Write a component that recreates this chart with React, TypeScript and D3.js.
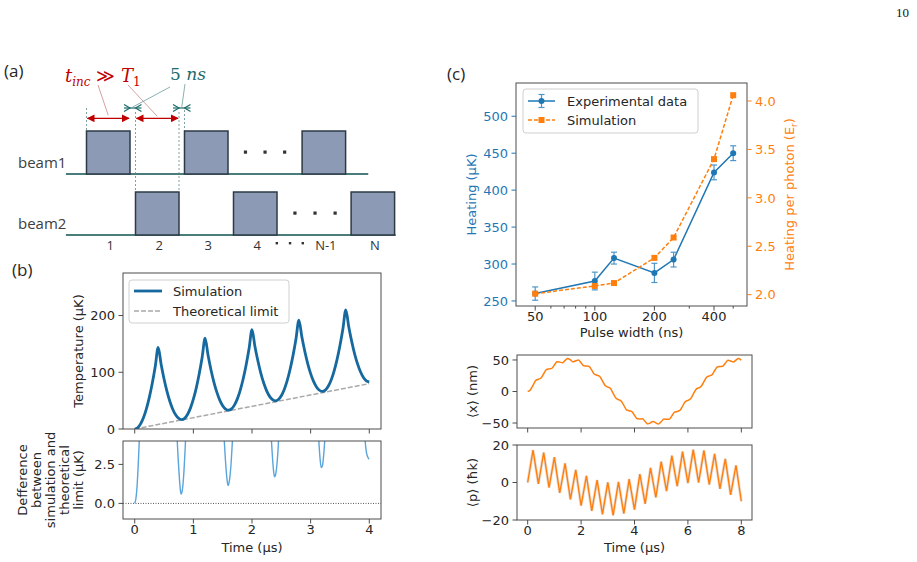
import React from 'react';
import * as d3 from 'd3';

const SANS = "'DejaVu Sans', Verdana, sans-serif";
const DIAGRAM_FONT = "'Open Sans', 'Liberation Sans', sans-serif";
const MATH_FONT = "'DejaVu Serif', 'Liberation Serif', serif";

const INK = '#262626';
const SPINE = '#4d4d4d';
const BLUE = '#1f77b4';
const ORANGE = '#ff7f0e';
const SIM_BLUE = '#16699f';
const DIFF_BLUE = '#5aa5dc';
const RED = '#c00000';
const TEAL = '#1d6b6b';
const PULSE_FILL = '#8c9ab6';
const PULSE_EDGE = '#2c3a44';
const BEAM_LINE = '#4a7c7c';

// ---- (a) pulse sequence ----
const slotLabels = ['1', '2', '3', '4', 'N-1', 'N'];
const slotPos = [0, 1, 2, 3, 4.4, 5.4];
const slotBeam = [1, 2, 1, 2, 1, 2];
const beamNames = ['beam1', 'beam2'];
const beamLineEnd = [5.75, 6.31];
const beamDots = [[2.8, 3.2, 3.6], [3.81, 4.22, 4.63]];
const labelDots = [3.44, 3.71, 3.97];

// ---- (b) temperature during the pulse train ----
const simTemperature = [
  0, 2.2, 9, 20.2, 36, 56.2, 81, 110.2, 144,
  114.1, 88.2, 66.4, 48.5, 34.5, 24.5, 18.6, 16.6,
  18.8, 25.6, 36.8, 52.5, 72.6, 97.3, 126.4, 160,
  130.3, 104.5, 82.7, 64.9, 51, 41.1, 35.2, 33.2,
  35.4, 42.1, 53.1, 68.6, 88.6, 113, 141.8, 175,
  145.6, 120.2, 98.6, 81, 67.3, 57.5, 51.7, 49.7,
  51.9, 58.6, 69.7, 85.3, 105.3, 129.8, 158.6, 192,
  162.5, 137, 115.4, 97.7, 84, 74.2, 68.3, 66.3,
  68.5, 75.3, 86.5, 102.2, 122.4, 147.2, 176.3, 210,
  180.2, 154.4, 132.5, 114.7, 100.8, 90.8, 84.9, 82.9,
];
const simTime = d3.range(simTemperature.length).map((i) => i * 0.05);
const theoryTime = [0, 4];
const theoryTemperature = [0, 80];

const diffTime = [
  0, 0.02, 0.04, 0.06, 0.08, 0.1, null,
  0.7, 0.72, 0.74, 0.76, 0.78, 0.79, 0.8, 0.82, 0.84, 0.86, 0.88, null,
  1.5, 1.52, 1.54, 1.56, 1.58, 1.59, 1.6, 1.62, 1.64, 1.66, 1.68, null,
  2.31, 2.33, 2.35, 2.37, 2.385, 2.4, 2.42, 2.44, 2.46, 2.48, null,
  3.12, 3.14, 3.16, 3.18, 3.2, 3.22, 3.24, 3.26, null,
  3.91, 3.93, 3.95, 3.97, 3.99, 4.0,
];
const diffValue = [
  0, 0.3, 1.1, 2.5, 4.2, 6.2, null,
  6.0, 4.4, 2.9, 1.7, 0.8, 0.6, 0.65, 1.1, 2.1, 3.5, 5.2, null,
  6.0, 4.5, 3.2, 2.1, 1.35, 1.15, 1.2, 1.6, 2.4, 3.6, 5.0, null,
  5.6, 4.1, 2.9, 2.0, 1.7, 1.8, 2.3, 3.2, 4.5, 6.0, null,
  5.4, 4.0, 2.9, 2.3, 2.4, 3.0, 4.0, 5.4, null,
  5.5, 4.0, 3.3, 3.0, 2.87, 2.85,
];
const temperatureTicks = [0, 100, 200];
const diffTicks = [0, 2.5];
const timeTicksB = [0, 1, 2, 3, 4];

// ---- (c) heating vs pulse width ----
const pulseWidth = [50, 100, 125, 200, 250, 400, 500];
const heatingExp = [260, 277, 308, 288, 306, 424, 450];
const heatingErr = [9, 12, 8, 13, 10, 10, 10];
const heatingSim = [2.01, 2.09, 2.12, 2.38, 2.59, 3.4, 4.06];
const pulseTicks = [50, 100, 200, 400];
const pulseMinorTicks = [60, 70, 80, 90, 300, 500];
const heatingTicks = [250, 300, 350, 400, 450, 500];
const photonTicks = [2.0, 2.5, 3.0, 3.5, 4.0];

// ---- (c) mean position and momentum ----
const xMean = [
  0, 2.5, 9.9, 17.3, 19.5, 21.5, 28.2, 34.7, 35.9, 36.7,
  42.1, 47.1, 46.6, 45.7, 49.3, 52.4, 50.0, 47.1, 48.7, 49.8,
  45.5, 40.7, 40.4, 39.8, 33.8, 27.4, 25.8, 23.9, 16.8, 9.5,
  7.1, 4.6, -2.9, -10.4, -12.8, -15.0, -22.1, -29.0, -30.6, -31.9,
  -37.8, -43.4, -43.6, -43.3, -47.6, -51.4, -49.7, -47.5, -49.8, -51.6,
  -48.0, -43.8, -44.2, -44.1, -38.6, -32.8, -31.6, -30.0, -23.2, -16.2,
  -14.0, -11.6, -4.2, 3.3, 5.8, 8.3, 15.6, 22.7, 24.7, 26.4,
  32.9, 39.0, 39.7, 40.0, 44.9, 49.4, 48.4, 46.9, 49.9, 52.5,
  49.5,
];
const xTime = d3.range(xMean.length).map((i) => i * 0.1);
const pMean = [
  0, 17.3, -0.7, 16.0, -2.7, 13.5, -5.6, 10.2, -9.0, 6.8,
  -12.4, 3.6, -15.2, 1.3, -17.0, 0.1, -17.5, 0.3, -16.6, 1.8,
  -14.5, 4.5, -11.4, 7.8, -8.0, 11.2, -4.6, 14.3, -2.0, 16.5,
  -0.3, 17.5, -0.05, 17.1, -1.1, 15.3, -3.4, 12.6, -6.6, 9.2,
  -10.0,
];
const pTime = d3.range(pMean.length).map((i) => i * 0.2);
const xTicks = [-50, 0, 50];
const pTicks = [-20, 0, 20];
const timeTicksC = [0, 2, 4, 6, 8];

const TICK = 4.5;
const PAD = 3.5;
const FS = 13;
const XLABEL_DROP = 15;

const fmtSigned = (d: number) => (d < 0 ? '\u2212' + Math.abs(d) : String(d));

type Box = { x0: number; x1: number; y0: number; y1: number };

function Frame({ b }: { b: Box }) {
  return (
    <rect x={b.x0} y={b.y0} width={b.x1 - b.x0} height={b.y1 - b.y0}
      fill="none" stroke={SPINE} strokeWidth={1} />
  );
}

function LeftTicks({ scale, ticks, x, fmt, color = INK }: any) {
  return (
    <g>
      {ticks.map((t: number) => (
        <g key={t}>
          <line x1={x - TICK} x2={x} y1={scale(t)} y2={scale(t)} stroke={color === INK ? SPINE : color} strokeWidth={1} />
          <text x={x - TICK - PAD} y={scale(t)} dy="0.36em" textAnchor="end"
            fontFamily={SANS} fontSize={FS} fill={color}>{fmt(t)}</text>
        </g>
      ))}
    </g>
  );
}

function RightTicks({ scale, ticks, x, fmt, color = INK }: any) {
  return (
    <g>
      {ticks.map((t: number) => (
        <g key={t}>
          <line x1={x} x2={x + TICK} y1={scale(t)} y2={scale(t)} stroke={color} strokeWidth={1} />
          <text x={x + TICK + PAD} y={scale(t)} dy="0.36em" textAnchor="start"
            fontFamily={SANS} fontSize={FS} fill={color}>{fmt(t)}</text>
        </g>
      ))}
    </g>
  );
}

function BottomTicks({ scale, ticks, y, fmt, labels = true, len = TICK }: any) {
  return (
    <g>
      {ticks.map((t: number) => (
        <g key={t}>
          <line x1={scale(t)} x2={scale(t)} y1={y} y2={y + len} stroke={SPINE} strokeWidth={1} />
          {labels && (
            <text x={scale(t)} y={y + XLABEL_DROP} textAnchor="middle"
              fontFamily={SANS} fontSize={FS} fill={INK}>{fmt(t)}</text>
          )}
        </g>
      ))}
    </g>
  );
}

function VLabel({ x, y, children, color = INK, size = FS }: any) {
  return (
    <text transform={`translate(${x},${y}) rotate(-90)`} textAnchor="middle" dy="0.35em"
      fontFamily={SANS} fontSize={size} fill={color}>{children}</text>
  );
}

function PanelA() {
  const slotX = d3.scaleLinear().domain([0, 1]).range([86.5, 135.5]);
  const boxW = 43.5;
  const boxH = 43;
  const beamY = d3.scaleOrdinal<number, number>().domain([1, 2]).range([174, 235]);
  const lineStart = slotX(-0.42);
  const arrowY = 118.3;
  const markY = 108;

  const left = (s: number) => slotX(s);
  const right = (s: number) => slotX(s) + boxW;
  const center = (s: number) => slotX(s) + boxW / 2;

  const gap1 = [right(slotPos[0]), left(slotPos[1])];
  const gap2 = [right(slotPos[1]), left(slotPos[2])];

  const chevrons = (g: number[]) => {
    const [gl, gr] = g;
    const y = markY;
    return (
      <g stroke={TEAL} strokeWidth={1.2} fill="none">
        <path d={`M${gl - 6},${y - 3.5} L${gl},${y} L${gl - 6},${y + 3.5}`} />
        <path d={`M${gr + 6},${y - 3.5} L${gr},${y} L${gr + 6},${y + 3.5}`} />
        <line x1={gl - 6} x2={gr + 6} y1={y} y2={y} />
      </g>
    );
  };

  return (
    <g>
      <defs>
        <marker id="redHead" viewBox="0 0 10 10" refX="9" refY="5" markerWidth="6" markerHeight="6" orient="auto-start-reverse">
          <path d="M0,0 L10,5 L0,10 z" fill={RED} />
        </marker>
      </defs>
      <text x={4} y={77} fontFamily={DIAGRAM_FONT} fontSize={17} fill={INK}>(a)</text>

      {/* beam baselines */}
      {beamNames.map((name, i) => (
        <g key={name}>
          <line x1={lineStart} x2={slotX(beamLineEnd[i])} y1={beamY(i + 1)} y2={beamY(i + 1)}
            stroke={BEAM_LINE} strokeWidth={2} />
          <text x={18} y={beamY(i + 1) - 6} fontFamily={DIAGRAM_FONT} fontSize={15} fill="#404040">{name}</text>
        </g>
      ))}

      {/* guide lines */}
      <g stroke="#5d8c8c" strokeWidth={0.8} strokeDasharray="2,2">
        <line x1={left(slotPos[0])} x2={left(slotPos[0])} y1={markY} y2={beamY(1) - boxH} />
        <line x1={left(slotPos[1])} x2={left(slotPos[1])} y1={markY + 4} y2={beamY(2) - boxH} />
        <line x1={right(slotPos[1])} x2={right(slotPos[1])} y1={markY + 4} y2={beamY(2) - boxH} />
        <line x1={left(slotPos[2])} x2={left(slotPos[2])} y1={markY + 2} y2={beamY(1) - boxH} />
      </g>

      {/* pulses */}
      {slotPos.map((s, i) => (
        <rect key={i} x={slotX(s)} y={beamY(slotBeam[i]) - boxH} width={boxW} height={boxH}
          fill={PULSE_FILL} stroke={PULSE_EDGE} strokeWidth={1.5} />
      ))}

      {/* ellipsis dots */}
      {beamDots.map((row, bi) => row.map((s, j) => (
        <rect key={`${bi}-${j}`} x={center(s) - 1.6} y={beamY(bi + 1) - 23.5} width={3.2} height={3.2} fill="#333" />
      )))}
      {labelDots.map((s, j) => (
        <rect key={`l${j}`} x={center(s) - 1.2} y={242} width={2.4} height={2.4} fill="#333" />
      ))}

      {/* slot numbers */}
      {slotLabels.map((lab, i) => (
        <text key={lab} x={center(slotPos[i]) + 2} y={250} textAnchor="middle"
          fontFamily={DIAGRAM_FONT} fontSize={13} fill="#333">{lab}</text>
      ))}

      {/* timing arrows */}
      <g stroke={RED} strokeWidth={1.3}>
        <line x1={left(slotPos[0]) + 1} x2={right(slotPos[0]) - 1} y1={arrowY} y2={arrowY}
          markerStart="url(#redHead)" markerEnd="url(#redHead)" />
        <line x1={left(slotPos[1]) + 1} x2={right(slotPos[1]) - 1} y1={arrowY} y2={arrowY}
          markerStart="url(#redHead)" markerEnd="url(#redHead)" />
      </g>
      <g stroke="#c98a8a" strokeWidth={0.8}>
        <line x1={98} y1={85} x2={center(slotPos[0])} y2={arrowY - 3} />
        <line x1={128} y1={85} x2={center(slotPos[1])} y2={arrowY - 2} />
      </g>
      {chevrons(gap1)}
      {chevrons(gap2)}
      <g stroke="#6f9c9c" strokeWidth={0.8}>
        <line x1={170} y1={87} x2={(gap1[0] + gap1[1]) / 2} y2={markY - 1} />
        <line x1={185} y1={84} x2={(gap2[0] + gap2[1]) / 2} y2={markY - 1} />
      </g>

      <text x={65} y={82} fill={RED} fontFamily={MATH_FONT} fontStyle="italic" fontSize={18}>
        t<tspan fontSize={12} dy={4}>inc</tspan>
        <tspan dy={-4} fontStyle="normal"> {'\u226B'} </tspan>T
        <tspan fontSize={12} dy={4} fontStyle="normal">1</tspan>
      </text>
      <text x={170} y={80} fill={TEAL} fontFamily={MATH_FONT} fontSize={17}>
        5 <tspan fontStyle="italic">ns</tspan>
      </text>
    </g>
  );
}

function PanelB() {
  const top: Box = { x0: 123, x1: 381, y0: 273, y1: 429 };
  const bot: Box = { x0: 123, x1: 381, y0: 441, y1: 519 };
  const x = d3.scaleLinear().domain([-0.2, 4.2]).range([top.x0, top.x1]);
  const yT = d3.scaleLinear().domain([0, 275]).range([top.y1, top.y0]);
  const yD = d3.scaleLinear().domain([-1, 4]).range([bot.y1, bot.y0]);

  const simPath = d3.line<number>()
    .x((_, i) => x(simTime[i]))
    .y((d) => yT(d))
    .curve(d3.curveMonotoneX)(simTemperature) || '';
  const theoryPath = d3.line<number>()
    .x((_, i) => x(theoryTime[i]))
    .y((d) => yT(d))(theoryTemperature) || '';
  const diffPts = diffTime.map((t, i) => [t, diffValue[i]] as [number | null, number | null]);
  const diffPath = d3.line<[number | null, number | null]>()
    .defined((d) => d[0] != null && d[1] != null)
    .x((d) => x(d[0] as number))
    .y((d) => yD(d[1] as number))
    .curve(d3.curveMonotoneX)(diffPts) || '';

  const labelLines = ['Defference', 'between', 'simulation and', 'theoretical', 'limit (\u00B5K)'];

  return (
    <g>
      <defs>
        <clipPath id="clipTop"><rect x={top.x0} y={top.y0} width={top.x1 - top.x0} height={top.y1 - top.y0} /></clipPath>
        <clipPath id="clipBot"><rect x={bot.x0} y={bot.y0} width={bot.x1 - bot.x0} height={bot.y1 - bot.y0} /></clipPath>
      </defs>
      <text x={12} y={276} fontFamily={DIAGRAM_FONT} fontSize={17} fill={INK}>(b)</text>

      <g clipPath="url(#clipTop)">
        <path d={theoryPath} fill="none" stroke="#a9a9a9" strokeWidth={1.5} strokeDasharray="5,2" />
        <path d={simPath} fill="none" stroke={SIM_BLUE} strokeWidth={2.8} strokeLinejoin="round" />
      </g>
      <Frame b={top} />
      <LeftTicks scale={yT} ticks={temperatureTicks} x={top.x0} fmt={(d: number) => String(d)} />
      <BottomTicks scale={x} ticks={timeTicksB} y={top.y1} fmt={String} labels={false} />
      <VLabel x={78} y={(top.y0 + top.y1) / 2}>Temperature ({'\u00B5'}K)</VLabel>

      <g>
        <rect x={129} y={280} width={160} height={43} rx={3} fill="#fff" fillOpacity={0.85} stroke="#d0d0d0" />
        <line x1={134} x2={162} y1={291} y2={291} stroke={SIM_BLUE} strokeWidth={2.8} />
        <text x={173} y={291} dy="0.36em" fontFamily={SANS} fontSize={FS} fill={INK}>Simulation</text>
        <line x1={134} x2={162} y1={311} y2={311} stroke="#a9a9a9" strokeWidth={1.5} strokeDasharray="5,2" />
        <text x={173} y={311} dy="0.36em" fontFamily={SANS} fontSize={FS} fill={INK}>Theoretical limit</text>
      </g>

      <line x1={bot.x0} x2={bot.x1} y1={yD(0)} y2={yD(0)} stroke="#555" strokeWidth={1} strokeDasharray="1,1.5" />
      <g clipPath="url(#clipBot)">
        <path d={diffPath} fill="none" stroke={DIFF_BLUE} strokeWidth={1.4} />
      </g>
      <Frame b={bot} />
      <LeftTicks scale={yD} ticks={diffTicks} x={bot.x0} fmt={d3.format('.1f')} />
      <BottomTicks scale={x} ticks={timeTicksB} y={bot.y1} fmt={String} />
      <text x={(bot.x0 + bot.x1) / 2} y={552} textAnchor="middle" fontFamily={SANS} fontSize={FS} fill={INK}>Time ({'\u00B5'}s)</text>
      {labelLines.map((l, i) => (
        <VLabel key={l} x={22 + i * 14} y={(bot.y0 + bot.y1) / 2}>{l}</VLabel>
      ))}
    </g>
  );
}

function PanelC() {
  const b: Box = { x0: 516, x1: 747, y0: 83, y1: 306 };
  const x = d3.scaleLog().domain([40, 587]).range([b.x0, b.x1]);
  const yL = d3.scaleLinear().domain([243.2, 545]).range([b.y1, b.y0]);
  const yR = d3.scaleLinear().domain([1.883, 4.186]).range([b.y1, b.y0]);

  const expPath = d3.line<number>().x((_, i) => x(pulseWidth[i])).y((d) => yL(d))(heatingExp) || '';
  const simPath = d3.line<number>().x((_, i) => x(pulseWidth[i])).y((d) => yR(d))(heatingSim) || '';

  return (
    <g>
      <text x={447} y={80} fontFamily={DIAGRAM_FONT} fontSize={17} fill={INK}>(c)</text>
      <path d={expPath} fill="none" stroke={BLUE} strokeWidth={1.5} />
      {heatingExp.map((v, i) => {
        const cx = x(pulseWidth[i]);
        const e = heatingErr[i];
        return (
          <g key={i}>
            <g stroke="#4f95c8" strokeWidth={1.2}>
              <line x1={cx} x2={cx} y1={yL(v - e)} y2={yL(v + e)} />
              <line x1={cx - 3} x2={cx + 3} y1={yL(v - e)} y2={yL(v - e)} />
              <line x1={cx - 3} x2={cx + 3} y1={yL(v + e)} y2={yL(v + e)} />
            </g>
            <circle cx={cx} cy={yL(v)} r={3} fill={BLUE} />
          </g>
        );
      })}
      <path d={simPath} fill="none" stroke={ORANGE} strokeWidth={1.5} strokeDasharray="4,2" />
      {heatingSim.map((v, i) => (
        <rect key={i} x={x(pulseWidth[i]) - 3} y={yR(v) - 3} width={6} height={6} fill={ORANGE} />
      ))}
      <Frame b={b} />
      <LeftTicks scale={yL} ticks={heatingTicks} x={b.x0} fmt={String} color={BLUE} />
      <RightTicks scale={yR} ticks={photonTicks} x={b.x1} fmt={d3.format('.1f')} color={ORANGE} />
      <BottomTicks scale={x} ticks={pulseTicks} y={b.y1} fmt={String} />
      <BottomTicks scale={x} ticks={pulseMinorTicks} y={b.y1} fmt={String} labels={false} len={2.6} />
      <text x={(b.x0 + b.x1) / 2} y={337} textAnchor="middle" fontFamily={SANS} fontSize={FS} fill={INK}>Pulse width (ns)</text>
      <VLabel x={471} y={(b.y0 + b.y1) / 2} color={BLUE}>Heating ({'\u00B5'}K)</VLabel>
      <text transform={`translate(789,${(b.y0 + b.y1) / 2}) rotate(-90)`} textAnchor="middle" dy="0.35em"
        fontFamily={SANS} fontSize={FS} fill={ORANGE}>
        Heating per photon (E<tspan fontSize={9} dy={3}>r</tspan><tspan dy={-3}>)</tspan>
      </text>

      <g>
        <rect x={523} y={89} width={175} height={44} rx={3} fill="#fff" fillOpacity={0.85} stroke="#d0d0d0" />
        <line x1={528} x2={555} y1={101} y2={101} stroke={BLUE} strokeWidth={1.5} />
        <g stroke="#4f95c8" strokeWidth={1.2}>
          <line x1={541.5} x2={541.5} y1={94.5} y2={107.5} />
          <line x1={538.5} x2={544.5} y1={94.5} y2={94.5} />
          <line x1={538.5} x2={544.5} y1={107.5} y2={107.5} />
        </g>
        <circle cx={541.5} cy={101} r={3} fill={BLUE} />
        <text x={567} y={101} dy="0.36em" fontFamily={SANS} fontSize={FS} fill={INK}>Experimental data</text>
        <line x1={528} x2={555} y1={120} y2={120} stroke={ORANGE} strokeWidth={1.5} strokeDasharray="4,2" />
        <rect x={538.5} y={117} width={6} height={6} fill={ORANGE} />
        <text x={567} y={120} dy="0.36em" fontFamily={SANS} fontSize={FS} fill={INK}>Simulation</text>
      </g>
    </g>
  );
}

function PanelCLower() {
  const bx: Box = { x0: 517, x1: 752, y0: 355, y1: 428 };
  const bp: Box = { x0: 517, x1: 752, y0: 445, y1: 520 };
  const t = d3.scaleLinear().domain([-0.4, 8.4]).range([bx.x0, bx.x1]);
  const yX = d3.scaleLinear().domain([-57.9, 57.9]).range([bx.y1, bx.y0]);
  const yP = d3.scaleLinear().domain([-20, 20]).range([bp.y1, bp.y0]);

  const xPath = d3.line<number>().x((_, i) => t(xTime[i])).y((d) => yX(d)).curve(d3.curveMonotoneX)(xMean) || '';
  const pPath = d3.line<number>().x((_, i) => t(pTime[i])).y((d) => yP(d))(pMean) || '';

  return (
    <g>
      <path d={xPath} fill="none" stroke={ORANGE} strokeWidth={1.5} />
      <Frame b={bx} />
      <LeftTicks scale={yX} ticks={xTicks} x={bx.x0} fmt={fmtSigned} />
      <BottomTicks scale={t} ticks={timeTicksC} y={bx.y1} fmt={String} labels={false} />
      <VLabel x={472} y={(bx.y0 + bx.y1) / 2}>{'\u27E8x\u27E9'} (nm)</VLabel>

      <path d={pPath} fill="none" stroke="#d9c2ae" strokeWidth={3} strokeOpacity={0.5} />
      <path d={pPath} fill="none" stroke={ORANGE} strokeWidth={1.4} />
      <Frame b={bp} />
      <LeftTicks scale={yP} ticks={pTicks} x={bp.x0} fmt={fmtSigned} />
      <BottomTicks scale={t} ticks={timeTicksC} y={bp.y1} fmt={String} />
      <VLabel x={472} y={(bp.y0 + bp.y1) / 2}>{'\u27E8p\u27E9'} ({'\u0127'}k)</VLabel>
      <text x={(bp.x0 + bp.x1) / 2} y={552} textAnchor="middle" fontFamily={SANS} fontSize={FS} fill={INK}>Time ({'\u00B5'}s)</text>
    </g>
  );
}

export default function App() {
  return (
    <svg width={917} height={562} viewBox="0 0 917 562"
      style={{ position: 'absolute', left: 0, top: 0, background: '#fff' }}>
      <rect x={0} y={0} width={917} height={562} fill="#fff" />
      <text x={896} y={17} fontFamily="'Liberation Serif', serif" fontSize={13} fill="#111">10</text>
      <PanelA />
      <PanelB />
      <PanelC />
      <PanelCLower />
    </svg>
  );
}
